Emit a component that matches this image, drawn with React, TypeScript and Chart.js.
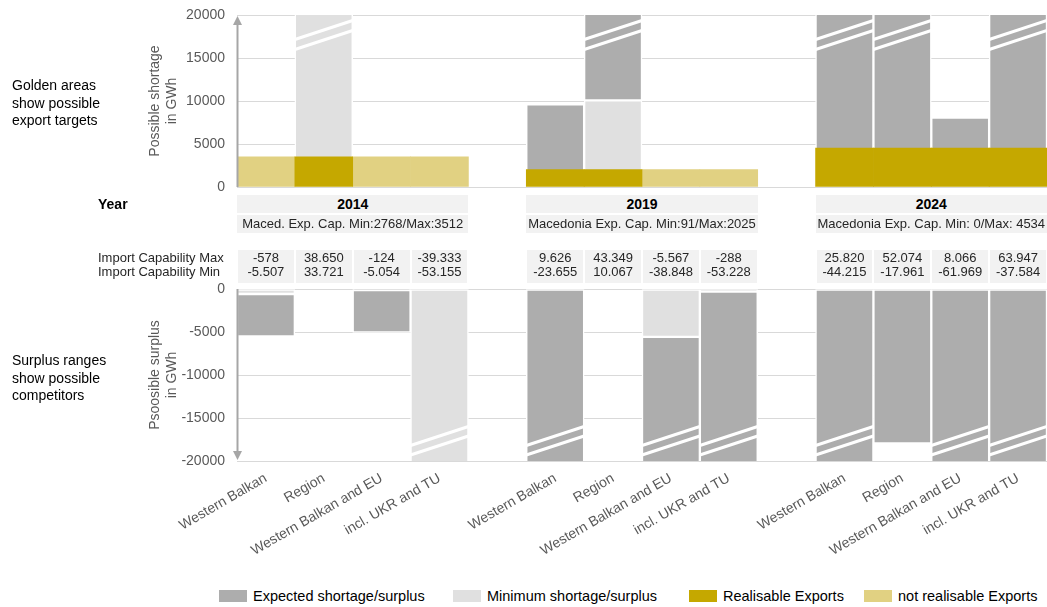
import React, { useEffect, useRef } from 'react';
import { Chart, registerables } from 'chart.js';

Chart.register(...registerables);

// ---------- data ----------
const categories = [
  'Western Balkan', 'Region', 'Western Balkan and EU', 'incl. UKR and TU', '',
  'Western Balkan', 'Region', 'Western Balkan and EU', 'incl. UKR and TU', '',
  'Western Balkan', 'Region', 'Western Balkan and EU', 'incl. UKR and TU',
];
const years = ['2014', '2019', '2024'];
const exportCapLabels = [
  'Maced. Exp. Cap. Min:2768/Max:3512',
  'Macedonia Exp. Cap. Min:91/Max:2025',
  'Macedonia Exp. Cap. Min: 0/Max: 4534',
];
const importMax: (number | null)[] = [-578, 38650, -124, -39333, null, 9626, 43349, -5567, -288, null, 25820, 52074, 8066, 63947];
const importMin: (number | null)[] = [-5507, 33721, -5054, -53155, null, -23655, 10067, -38848, -53228, null, -44215, -17961, -61969, -37584];
const realisableExports: (number | null)[] = [null, 3512, null, null, null, 2025, 2025, null, null, null, 4534, 4534, 4534, 4534];
const notRealisableExports: (number | null)[] = [3512, null, 3512, 3512, null, null, null, 2025, 2025, null, null, null, null, null];
const topTicks = { min: 0, max: 20000, step: 5000 };
const bottomTicks = { min: -20000, max: 0, step: 5000 };

// ---------- style ----------
const FONT = "'Liberation Sans', Arial, Helvetica, sans-serif";
const TXT = '#595959';
const DARK = '#adadad';
const LIGHT = '#e0e0e0';
const GOLD = '#c5a800';
const GOLD_LIGHT = '#e1d182';
const CELL = '#f2f2f2';
const W = 1047;
const AREA_LEFT = 237;
const PAD_LEFT = 140;
const SLOT = (W - AREA_LEFT) / categories.length;

function fmt(v: number | null): string {
  if (v === null) return '';
  const s = Math.abs(v).toString();
  const parts: string[] = [];
  for (let i = s.length; i > 0; i -= 3) parts.unshift(s.slice(Math.max(0, i - 3), i));
  return (v < 0 ? '-' : '') + parts.join('.');
}

const topLight = importMin.map((mn) => (mn !== null && mn > 0 ? [0, mn] : null));
const topDark = importMax.map((mx, i) => {
  const mn = importMin[i];
  return mx !== null && mn !== null && mx > 0 ? [Math.max(mn, 0), mx] : null;
});
const botLight = importMax.map((mx) => (mx !== null && mx < 0 ? [0, mx] : null));
const botDark = importMin.map((mn, i) => {
  const mx = importMax[i];
  return mn !== null && mx !== null && mn < 0 ? [Math.min(mx, 0), mn] : null;
});

function breakPlugin(side: 'top' | 'bottom') {
  return {
    id: 'breaks-' + side,
    afterDatasetsDraw(chart: any) {
      const { ctx, chartArea: a } = chart;
      const ys = chart.scales.y;
      ctx.save();
      ctx.beginPath();
      ctx.rect(a.left, a.top, a.right - a.left, a.bottom - a.top);
      ctx.clip();
      ctx.strokeStyle = '#ffffff';
      ctx.lineWidth = 3;
      const line = (x1: number, y1: number, x2: number, y2: number) => {
        ctx.beginPath();
        ctx.moveTo(x1, y1);
        ctx.lineTo(x2, y2);
        ctx.stroke();
      };
      chart.data.datasets.forEach((ds: any, di: number) => {
        if (!ds.breakable) return;
        const meta = chart.getDatasetMeta(di);
        ds.data.forEach((r: any, i: number) => {
          if (!r) return;
          const lo = Math.min(r[0], r[1]);
          const hi = Math.max(r[0], r[1]);
          const el = meta.data[i];
          if (!el) return;
          const L = el.x - el.width / 2;
          const R = el.x + el.width / 2;
          if (side === 'top' && hi > ys.max && lo < ys.max) {
            const t = a.top;
            line(L, t + 24.5, R, t + 5.5);
            line(L, t + 34.5, R, t + 15.5);
          }
          if (side === 'bottom' && lo < ys.min && hi > ys.min) {
            const b = a.bottom;
            line(L, b - 15.5, R, b - 34.5);
            line(L, b - 6, R, b - 25);
          }
        });
      });
      ctx.restore();
    },
  };
}

function arrowPlugin(dir: 'up' | 'down') {
  return {
    id: 'arrow-' + dir,
    afterDatasetsDraw(chart: any) {
      const { ctx, chartArea: a } = chart;
      const x = a.left + 0.5;
      ctx.save();
      ctx.strokeStyle = '#a6a6a6';
      ctx.fillStyle = '#a6a6a6';
      ctx.lineWidth = 2;
      ctx.beginPath();
      if (dir === 'up') {
        ctx.moveTo(x, a.bottom);
        ctx.lineTo(x, a.top + 9);
        ctx.stroke();
        ctx.beginPath();
        ctx.moveTo(x - 4.5, a.top + 10);
        ctx.lineTo(x + 4.5, a.top + 10);
        ctx.lineTo(x, a.top + 1);
      } else {
        ctx.moveTo(x, a.top);
        ctx.lineTo(x, a.bottom - 9);
        ctx.stroke();
        ctx.beginPath();
        ctx.moveTo(x - 4.5, a.bottom - 10);
        ctx.lineTo(x + 4.5, a.bottom - 10);
        ctx.lineTo(x, a.bottom - 1);
      }
      ctx.closePath();
      ctx.fill();
      ctx.restore();
    },
  };
}

function yScale(lim: { min: number; max: number; step: number }, title: string[]) {
  return {
    min: lim.min,
    max: lim.max,
    afterFit: (s: any) => {
      s.width = AREA_LEFT - PAD_LEFT;
    },
    ticks: {
      stepSize: lim.step,
      color: TXT,
      font: { family: FONT, size: 14 },
      padding: 0,
      callback: (v: any) => String(v),
    },
    grid: { color: '#d9d9d9', lineWidth: 1, drawTicks: true, tickLength: 12, tickColor: 'rgba(0,0,0,0)' },
    border: { display: false },
    title: {
      display: true,
      text: title,
      color: TXT,
      font: { family: FONT, size: 14, lineHeight: 1.2 },
      padding: { top: 7, bottom: 0 },
    },
  };
}

const grayDs = (label: string, data: any[], color: string) => ({
  label,
  data,
  backgroundColor: color,
  borderColor: '#ffffff',
  borderWidth: 1.5,
  borderSkipped: false,
  grouped: false,
  barPercentage: 1,
  categoryPercentage: 1,
  order: 2,
  clip: 0,
  breakable: true,
});

const goldDs = (label: string, data: any[], color: string) => ({
  label,
  data,
  backgroundColor: color,
  borderWidth: 0,
  grouped: false,
  barPercentage: 1,
  categoryPercentage: 1,
  order: 1,
  clip: 0,
});

export default function App() {
  const topRef = useRef<HTMLCanvasElement>(null);
  const botRef = useRef<HTMLCanvasElement>(null);

  useEffect(() => {
    const topChart = new Chart(topRef.current as HTMLCanvasElement, {
      type: 'bar',
      data: {
        labels: categories,
        datasets: [
          grayDs('Expected shortage/surplus', topDark, DARK),
          grayDs('Minimum shortage/surplus', topLight, LIGHT),
          goldDs('Realisable Exports', realisableExports, GOLD),
          goldDs('not realisable Exports', notRealisableExports, GOLD_LIGHT),
        ] as any,
      },
      options: {
        responsive: false,
        animation: false,
        layout: { padding: { left: PAD_LEFT, right: 0, top: 15, bottom: 9 } },
        plugins: { legend: { display: false }, tooltip: { enabled: false } },
        scales: {
          x: { display: false, offset: true },
          y: yScale(topTicks, ['Possible shortage', 'in GWh']) as any,
        },
      },
      plugins: [breakPlugin('top'), arrowPlugin('up')],
    });

    const botChart = new Chart(botRef.current as HTMLCanvasElement, {
      type: 'bar',
      data: {
        labels: categories,
        datasets: [
          grayDs('Expected shortage/surplus', botDark, DARK),
          grayDs('Minimum shortage/surplus', botLight, LIGHT),
        ] as any,
      },
      options: {
        responsive: false,
        animation: false,
        layout: { padding: { left: PAD_LEFT, right: 0, top: 9, bottom: 0 } },
        plugins: { legend: { display: false }, tooltip: { enabled: false } },
        scales: {
          x: {
            offset: true,
            grid: { display: false, drawTicks: false },
            border: { display: false },
            afterFit: (s: any) => {
              s.height = 119;
            },
            ticks: {
              autoSkip: false,
              maxRotation: 30,
              minRotation: 30,
              color: TXT,
              font: { family: FONT, size: 14 },
              padding: 9,
            },
          } as any,
          y: yScale(bottomTicks, ['Psoosible surplus', 'in GWh']) as any,
        },
      },
      plugins: [breakPlugin('bottom'), arrowPlugin('down')],
    });

    return () => {
      topChart.destroy();
      botChart.destroy();
    };
  }, []);

  const abs = (o: React.CSSProperties): React.CSSProperties => ({ position: 'absolute', ...o });
  const groupStart = (g: number) => AREA_LEFT + g * 5 * SLOT;

  const legendItems = [
    { label: 'Expected shortage/surplus', color: DARK, box: 219 },
    { label: 'Minimum shortage/surplus', color: LIGHT, box: 453 },
    { label: 'Realisable Exports', color: GOLD, box: 689 },
    { label: 'not realisable Exports', color: GOLD_LIGHT, box: 864 },
  ];

  return (
    <div
      style={{
        position: 'absolute',
        left: 0,
        top: 0,
        width: W,
        height: 607,
        background: '#fff',
        fontFamily: FONT,
        overflow: 'hidden',
      }}
    >
      <canvas ref={topRef} width={W} height={196} style={abs({ left: 0, top: 0, width: W, height: 196 })} />
      <canvas ref={botRef} width={W} height={300} style={abs({ left: 0, top: 280, width: W, height: 300 })} />

      {/* left notes */}
      <div style={abs({ left: 12, top: 77, fontSize: 14, lineHeight: '17.5px', color: '#000' })}>
        Golden areas
        <br />
        show possible
        <br />
        export targets
      </div>
      <div style={abs({ left: 12, top: 352, fontSize: 14, lineHeight: '17.5px', color: '#000' })}>
        Surplus ranges
        <br />
        show possible
        <br />
        competitors
      </div>

      {/* table */}
      <div style={abs({ left: 98, top: 195, height: 18, lineHeight: '18px', fontSize: 14, fontWeight: 'bold', color: '#000' })}>
        Year
      </div>
      <div style={abs({ left: 98, top: 251, lineHeight: '14px', fontSize: 13, color: '#262626', whiteSpace: 'nowrap' })}>
        Import Capability Max
        <br />
        Import Capability Min
      </div>
      {years.map((yr, g) => {
        const start = groupStart(g);
        const width = Math.min(4 * SLOT, W - start);
        return (
          <React.Fragment key={yr}>
            <div
              style={abs({
                left: start,
                top: 195,
                width,
                height: 18,
                lineHeight: '18px',
                background: CELL,
                textAlign: 'center',
                fontWeight: 'bold',
                fontSize: 14,
                color: '#000',
              })}
            >
              {yr}
            </div>
            <div
              style={abs({
                left: start,
                top: 215,
                width,
                height: 18,
                lineHeight: '18px',
                background: CELL,
                textAlign: 'center',
                fontSize: 13,
                color: '#262626',
                whiteSpace: 'nowrap',
                display: 'flex',
                justifyContent: 'center',
              })}
            >
              <span>{exportCapLabels[g]}</span>
            </div>
            {[0, 1, 2, 3].map((k) => {
              const i = g * 5 + k;
              return (
                <div
                  key={k}
                  style={abs({
                    left: start + k * SLOT + 1,
                    top: 250,
                    width: SLOT - 2,
                    height: 33,
                    background: CELL,
                    textAlign: 'center',
                    fontSize: 13,
                    lineHeight: '14px',
                    paddingTop: 1,
                    boxSizing: 'border-box',
                    color: '#262626',
                  })}
                >
                  {fmt(importMax[i])}
                  <br />
                  {fmt(importMin[i])}
                </div>
              );
            })}
          </React.Fragment>
        );
      })}

      {/* legend */}
      {legendItems.map((it) => (
        <React.Fragment key={it.label}>
          <div style={abs({ left: it.box, top: 590, width: 28, height: 12, background: it.color })} />
          <div
            style={abs({
              left: it.box + 34,
              top: 587,
              lineHeight: '18px',
              fontSize: 14.5,
              color: '#000',
              whiteSpace: 'nowrap',
            })}
          >
            {it.label}
          </div>
        </React.Fragment>
      ))}
    </div>
  );
}
